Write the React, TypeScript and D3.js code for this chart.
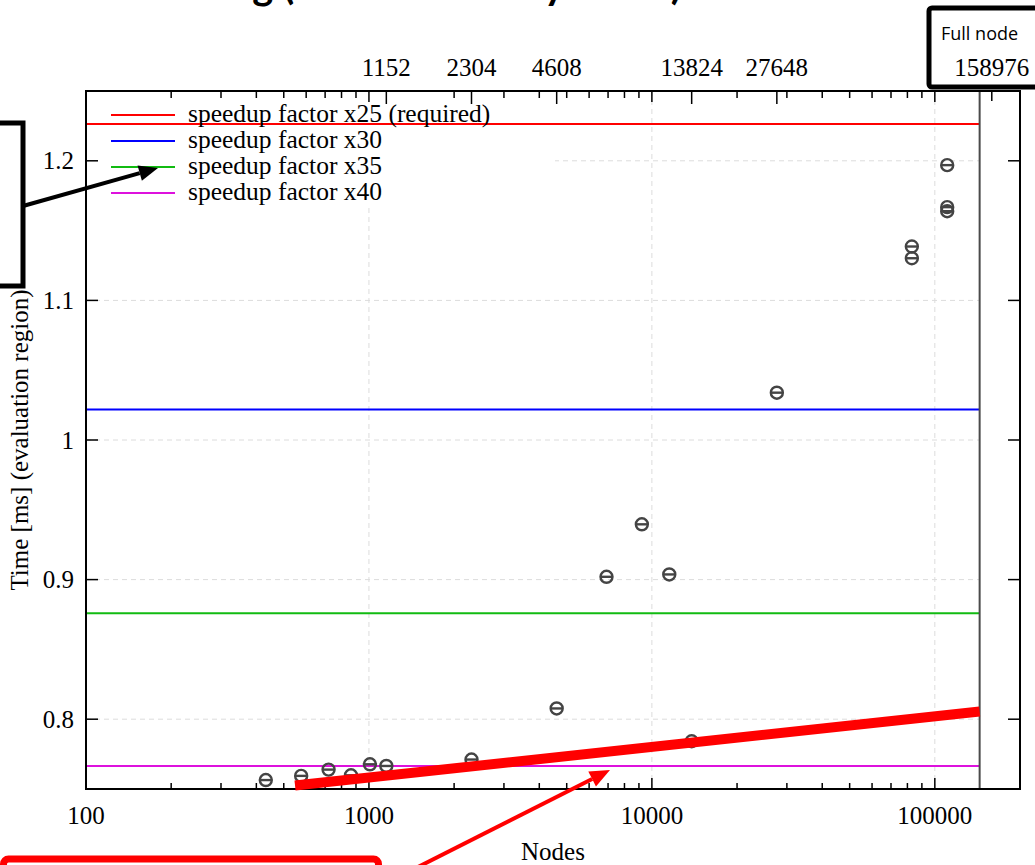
import React, { useEffect, useRef } from 'react';
import * as d3 from 'd3';

// measured points (nodes vs time in ms)
const nodes = [432, 576, 720, 864, 1008, 1152, 2304, 4608, 6912, 9216, 11520, 13824, 27648, 82944, 82944, 110592, 110592, 110592];
const times = [0.7564, 0.7594, 0.7639, 0.7598, 0.7677, 0.7665, 0.7711, 0.8077, 0.902, 0.9396, 0.9037, 0.7842, 1.0339, 1.1386, 1.1302, 1.1969, 1.1668, 1.1639];

// required speedup levels
const speedupLabels = ['speedup factor x25 (required)', 'speedup factor x30', 'speedup factor x35', 'speedup factor x40'];
const speedupTimes = [1.2263, 1.0219, 0.8759, 0.7664];
const speedupColors = ['#ff0000', '#0000ff', '#11bb11', '#dd11dd'];

const bottomTicks = [100, 1000, 10000, 100000];
const topTicks = [1152, 2304, 4608, 13824, 27648, 158976];
const yTicks = [0.8, 0.9, 1, 1.1, 1.2];

const boundaryNodes = 144000;
// hand drawn red trend line on the slide
const trendNodes = [548, 144000];
const trendTimes = [0.7525, 0.8055];

function drawArrow(svg, x1, y1, x2, y2, color, width, headLen, headW) {
  const a = Math.atan2(y2 - y1, x2 - x1);
  const bx = x2 - headLen * Math.cos(a);
  const by = y2 - headLen * Math.sin(a);
  svg.append('line')
    .attr('x1', x1).attr('y1', y1).attr('x2', bx).attr('y2', by)
    .attr('stroke', color).attr('stroke-width', width);
  const px = -Math.sin(a) * headW / 2;
  const py = Math.cos(a) * headW / 2;
  svg.append('polygon')
    .attr('points', `${x2},${y2} ${bx + px},${by + py} ${bx - px},${by - py}`)
    .attr('fill', color);
}

export default function App() {
  const svgRef = useRef(null);

  useEffect(() => {
    document.body.style.margin = '0';
    const width = 1035;
    const height = 865;
    const serif = '"Liberation Serif", "Times New Roman", serif';

    d3.select(svgRef.current).selectAll('*').remove();
    const svg = d3.select(svgRef.current)
      .attr('width', width)
      .attr('height', height)
      .style('display', 'block')
      .style('background', '#fff');

    const x = d3.scaleLog().domain([100, 200000]).range([86, 1020]);
    const y = d3.scaleLinear().domain([0.75, 1.25]).range([789, 91]);
    const [left, right] = x.range();
    const [bottom, top] = y.range();
    const xEnd = x(boundaryNodes);

    // minor log ticks
    const minor = [];
    for (let d = 100; d < 200000; d *= 10) {
      for (let k = 2; k <= 9; k++) if (d * k < 200000) minor.push(d * k);
    }

    // grid
    const grid = svg.append('g').attr('stroke', '#dcdcdc').attr('stroke-dasharray', '5,4').attr('stroke-width', 1);
    bottomTicks.slice(1).forEach(v => {
      grid.append('line').attr('x1', x(v)).attr('x2', x(v)).attr('y1', top).attr('y2', bottom);
    });
    yTicks.forEach(v => {
      grid.append('line').attr('x1', left).attr('x2', xEnd).attr('y1', y(v)).attr('y2', y(v));
    });

    // legend background hides grid
    svg.append('rect').attr('x', left + 3).attr('y', top + 2).attr('width', 466).attr('height', 112).attr('fill', '#fff');

    // speedup lines
    speedupTimes.forEach((t, i) => {
      svg.append('line')
        .attr('x1', left).attr('x2', xEnd)
        .attr('y1', y(t)).attr('y2', y(t))
        .attr('stroke', speedupColors[i]).attr('stroke-width', 2);
    });

    // boundary line
    svg.append('line')
      .attr('x1', xEnd).attr('x2', xEnd).attr('y1', top).attr('y2', bottom)
      .attr('stroke', '#4a4a4a').attr('stroke-width', 2);

    // markers
    const pts = nodes.map((n, i) => ({ n, t: times[i] }));
    const r = 6;
    const mk = svg.append('g').attr('stroke', '#444').attr('stroke-width', 2.4).attr('fill', 'none');
    pts.forEach(p => {
      mk.append('circle').attr('cx', x(p.n)).attr('cy', y(p.t)).attr('r', r);
      mk.append('line').attr('x1', x(p.n) - r).attr('x2', x(p.n) + r).attr('y1', y(p.t)).attr('y2', y(p.t));
    });

    // frame + ticks
    svg.append('rect').attr('x', left).attr('y', top).attr('width', right - left).attr('height', bottom - top)
      .attr('fill', 'none').attr('stroke', '#000').attr('stroke-width', 2);
    const ticks = svg.append('g').attr('stroke', '#000').attr('stroke-width', 1.5);
    minor.forEach(v => {
      ticks.append('line').attr('x1', x(v)).attr('x2', x(v)).attr('y1', bottom).attr('y2', bottom - 6);
      ticks.append('line').attr('x1', x(v)).attr('x2', x(v)).attr('y1', top).attr('y2', top + 7);
    });
    bottomTicks.forEach(v => {
      ticks.append('line').attr('x1', x(v)).attr('x2', x(v)).attr('y1', bottom).attr('y2', bottom - 11);
      ticks.append('line').attr('x1', x(v)).attr('x2', x(v)).attr('y1', top).attr('y2', top + 11);
    });
    topTicks.forEach(v => {
      ticks.append('line').attr('x1', x(v)).attr('x2', x(v)).attr('y1', top).attr('y2', top + (v > 100000 ? 10 : 13));
    });
    yTicks.forEach(v => {
      ticks.append('line').attr('x1', left).attr('x2', left + 12).attr('y1', y(v)).attr('y2', y(v));
      ticks.append('line').attr('x1', right).attr('x2', right - 12).attr('y1', y(v)).attr('y2', y(v));
    });

    // tick labels
    const lab = svg.append('g').attr('font-family', serif).attr('font-size', 25).attr('fill', '#000');
    bottomTicks.forEach(v => {
      lab.append('text').attr('x', x(v)).attr('y', 824).attr('text-anchor', 'middle').text(String(v));
    });
    topTicks.forEach(v => {
      lab.append('text').attr('x', x(v)).attr('y', 76).attr('text-anchor', 'middle').text(String(v));
    });
    yTicks.forEach(v => {
      lab.append('text').attr('x', 74).attr('y', y(v) + 8.5).attr('text-anchor', 'end').text(d3.format('~g')(v));
    });

    // axis titles
    lab.append('text').attr('x', (left + right) / 2).attr('y', 860).attr('text-anchor', 'middle').text('Nodes');
    lab.append('text').attr('transform', `translate(27.5,${(top + bottom) / 2}) rotate(-90)`)
      .attr('text-anchor', 'middle').text('Time [ms] (evaluation region)');

    // legend
    speedupLabels.forEach((s, i) => {
      const ly = 115 + i * 26;
      svg.append('line').attr('x1', 111).attr('x2', 175).attr('y1', ly).attr('y2', ly)
        .attr('stroke', speedupColors[i]).attr('stroke-width', 2);
      lab.append('text').attr('x', 188).attr('y', ly + 6.5).attr('font-size', 25.5).text(s);
    });

    // trend annotation
    svg.append('line')
      .attr('x1', x(trendNodes[0])).attr('y1', y(trendTimes[0]))
      .attr('x2', x(trendNodes[1])).attr('y2', y(trendTimes[1]))
      .attr('stroke', '#ff0000').attr('stroke-width', 10);

    // slide overlays
    drawArrow(svg, 418, 867, 610, 770, '#ff0000', 4, 20, 17);
    drawArrow(svg, 23, 206, 158, 168, '#000', 4, 19, 16);
    svg.append('rect').attr('x', -20).attr('y', 123).attr('width', 43).attr('height', 163)
      .attr('fill', 'none').attr('stroke', '#000').attr('stroke-width', 5);
    svg.append('rect').attr('x', 3.5).attr('y', 859).attr('width', 375).attr('height', 40).attr('rx', 5)
      .attr('fill', 'none').attr('stroke', '#ff0000').attr('stroke-width', 7);
    svg.append('rect').attr('x', 929).attr('y', 8).attr('width', 130).attr('height', 79).attr('rx', 3)
      .attr('fill', 'none').attr('stroke', '#000').attr('stroke-width', 5);
    svg.append('text').attr('x', 941).attr('y', 40)
      .attr('font-family', '"Open Sans", Lato, sans-serif').attr('font-size', 18).text('Full node');

    // title, mostly cut off above the view
    const title = svg.append('text').attr('x', 0).attr('y', -1)
      .attr('font-family', 'Lato, sans-serif').attr('font-weight', 700).attr('font-size', 40)
      .text('Weak scaling (evaluation only times)');
    const node = title.node();
    const w = node.getSubStringLength(0, 14);
    title.attr('x', 293 - w);
  }, []);

  return <svg ref={svgRef}></svg>;
}
